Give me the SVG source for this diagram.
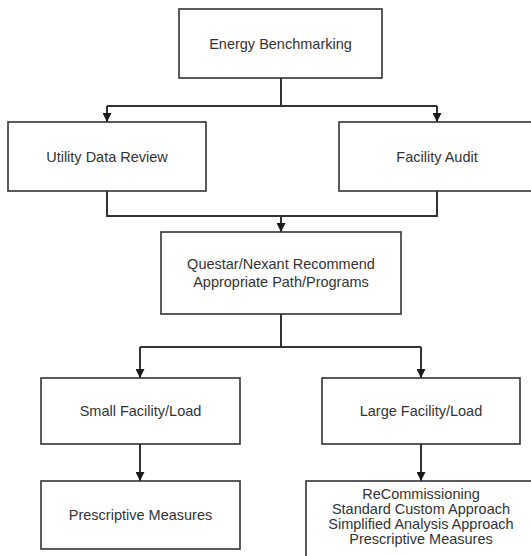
<svg xmlns="http://www.w3.org/2000/svg" width="531" height="556" viewBox="0 0 531 556">
<defs>
<marker id="arr" markerUnits="userSpaceOnUse" markerWidth="9" markerHeight="9" refX="9" refY="4.5" orient="auto">
<path d="M0,0 L9,4.5 L0,9 Z" fill="#1a1a1a"/>
</marker>
<style>
.box{fill:#fff;stroke:#333;stroke-width:1.6}
.lbl{font-family:"Liberation Sans",Arial,sans-serif;font-size:14.5px;fill:#333;text-anchor:middle}
.con{fill:none;stroke:#333;stroke-width:2}
</style>
</defs>
<rect width="531" height="556" fill="#fff"/>
<g id="connectors">
<path class="con" d="M281 78 V106 M107 106 H437"/>
<path class="con" d="M107 106 V122" marker-end="url(#arr)"/>
<path class="con" d="M437 106 V122" marker-end="url(#arr)"/>
<path class="con" d="M107 191 V216 H437 V191"/>
<path class="con" d="M281 216 V232" marker-end="url(#arr)"/>
<path class="con" d="M281 314 V347 M140 347 H421"/>
<path class="con" d="M140 347 V378" marker-end="url(#arr)"/>
<path class="con" d="M421 347 V378" marker-end="url(#arr)"/>
<path class="con" d="M140 444 V481" marker-end="url(#arr)"/>
<path class="con" d="M421 444 V481" marker-end="url(#arr)"/>
</g>
<g id="energy-benchmarking">
<rect class="box" x="179" y="9" width="203" height="69"/>
<text class="lbl" x="280.5" y="48.5">Energy Benchmarking</text>
</g>
<g id="utility-data-review">
<rect class="box" x="8" y="122" width="198" height="69"/>
<text class="lbl" x="107" y="161.5">Utility Data Review</text>
</g>
<g id="facility-audit">
<rect class="box" x="339" y="122" width="196" height="69"/>
<text class="lbl" x="437" y="161.5">Facility Audit</text>
</g>
<g id="questar-nexant">
<rect class="box" x="161" y="232" width="240" height="82"/>
<text class="lbl" x="281" y="269">Questar/Nexant Recommend</text>
<text class="lbl" x="281" y="286.5">Appropriate Path/Programs</text>
</g>
<g id="small-facility">
<rect class="box" x="41" y="378" width="199" height="66"/>
<text class="lbl" x="140.5" y="416">Small Facility/Load</text>
</g>
<g id="large-facility">
<rect class="box" x="322" y="378" width="198" height="66"/>
<text class="lbl" x="421" y="416">Large Facility/Load</text>
</g>
<g id="prescriptive-measures">
<rect class="box" x="41" y="481" width="199" height="68"/>
<text class="lbl" x="140.5" y="520">Prescriptive Measures</text>
</g>
<g id="large-programs">
<rect class="box" x="306" y="481" width="230" height="90"/>
<text class="lbl" x="421" y="499">ReCommissioning</text>
<text class="lbl" x="421" y="514">Standard Custom Approach</text>
<text class="lbl" x="421" y="529">Simplified Analysis Approach</text>
<text class="lbl" x="421" y="544">Prescriptive Measures</text>
</g>
</svg>
